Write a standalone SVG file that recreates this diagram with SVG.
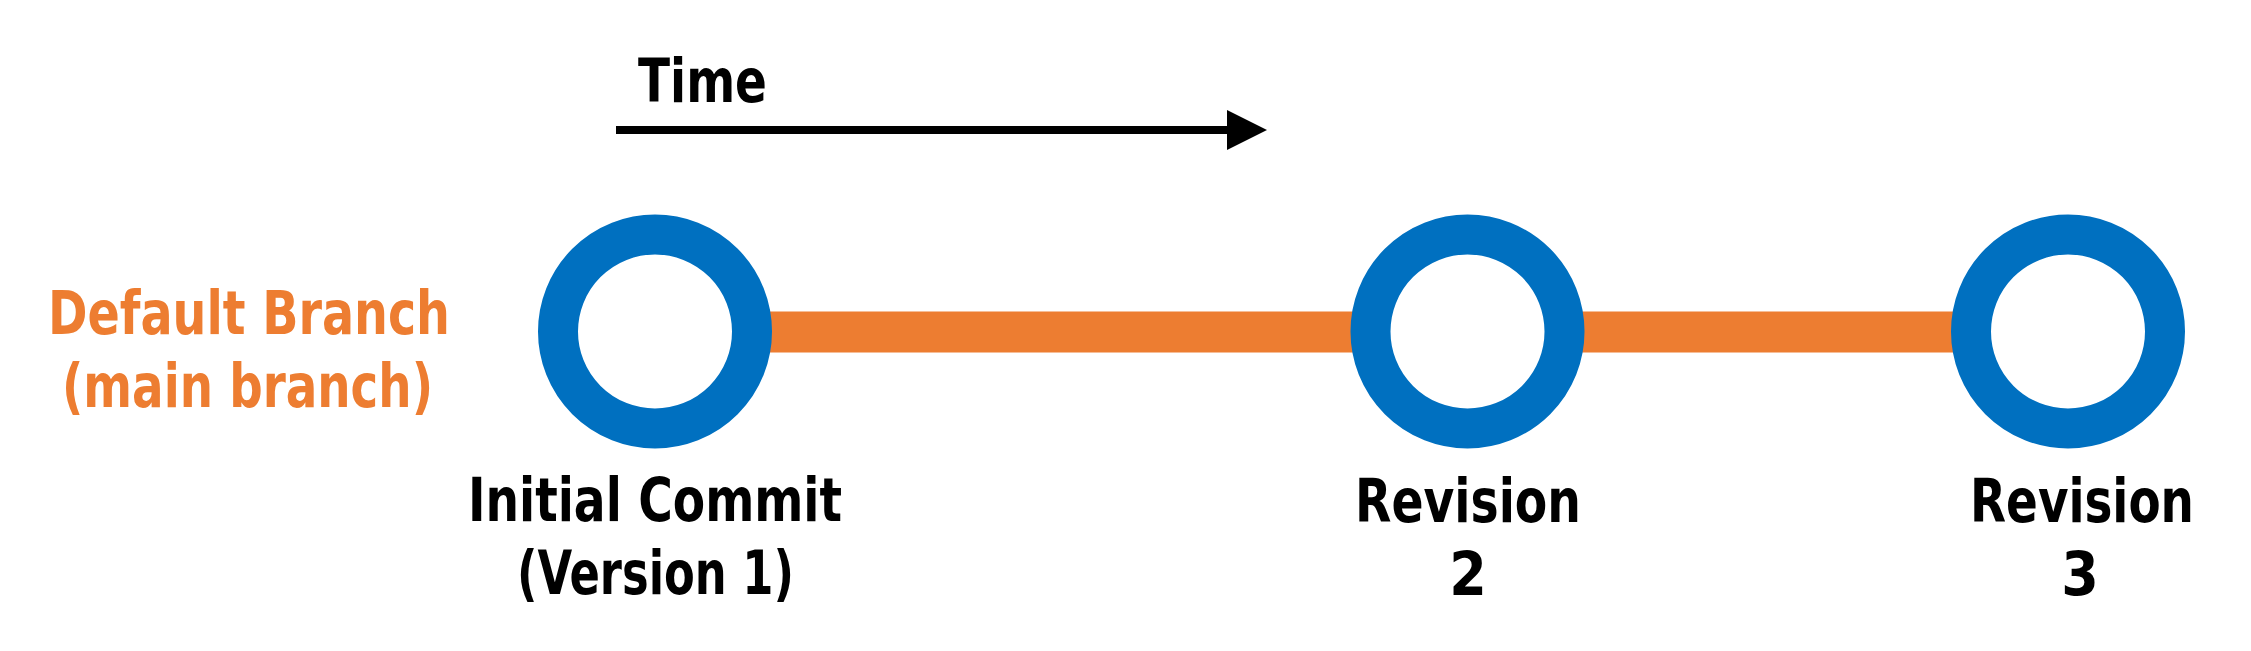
<svg xmlns="http://www.w3.org/2000/svg" width="2251" height="651" viewBox="0 0 2251 651">
<style>
.t{font-family:"Liberation Sans Narrow","DejaVu Sans Condensed","Liberation Sans",sans-serif;font-weight:bold;font-size:60px}
.k{fill:#000}
.o{fill:#ED7D31}
.c{fill:#fff;stroke:#0070C0;stroke-width:40}
</style>
<rect width="2251" height="651" fill="#fff"/>
<g id="connectors">
<rect x="760" y="311.5" width="1210" height="41" fill="#ED7D31"/>
<g id="time-arrow">
<line x1="616" y1="130" x2="1230" y2="130" stroke="#000" stroke-width="8"/>
<polygon points="1227,110 1267,130 1227,150" fill="#000"/>
</g>
</g>
<text class="t k" x="638" y="102" textLength="129" lengthAdjust="spacingAndGlyphs">Time</text>
<g id="branch-label">
<text class="t o" x="249" y="334" text-anchor="middle" textLength="402" lengthAdjust="spacingAndGlyphs">Default Branch</text>
<text class="t o" x="247.5" y="407" text-anchor="middle" textLength="371" lengthAdjust="spacingAndGlyphs">(main branch)</text>
</g>
<g id="commit1">
<circle class="c" cx="655" cy="331.5" r="97"/>
<text class="t k" x="655" y="521" text-anchor="middle" textLength="374" lengthAdjust="spacingAndGlyphs">Initial Commit</text>
<text class="t k" x="655.5" y="594" text-anchor="middle" textLength="277" lengthAdjust="spacingAndGlyphs">(Version 1)</text>
</g>
<g id="commit2">
<circle class="c" cx="1467.5" cy="331.5" r="97"/>
<text class="t k" x="1468" y="522" text-anchor="middle" textLength="226" lengthAdjust="spacingAndGlyphs">Revision</text>
<text class="t k" x="1468" y="595" text-anchor="middle">2</text>
</g>
<g id="commit3">
<circle class="c" cx="2068" cy="331.5" r="97"/>
<text class="t k" x="2082" y="522" text-anchor="middle" textLength="224" lengthAdjust="spacingAndGlyphs">Revision</text>
<text class="t k" x="2080" y="595" text-anchor="middle">3</text>
</g>
</svg>
